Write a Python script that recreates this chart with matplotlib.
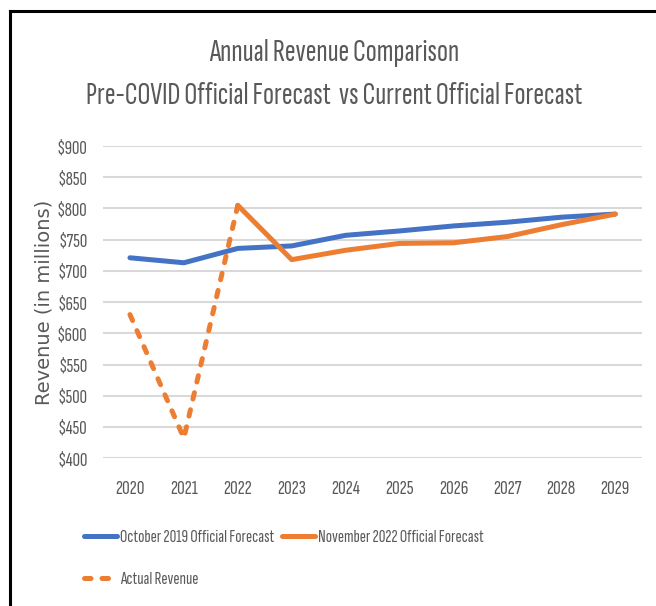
import matplotlib
matplotlib.use("Agg")
import matplotlib.pyplot as plt
from matplotlib.lines import Line2D
from matplotlib import font_manager
from matplotlib.font_manager import FontProperties
from matplotlib.textpath import TextPath

years = [2020, 2021, 2022, 2023, 2024, 2025, 2026, 2027, 2028, 2029]
oct2019 = [721, 713, 736, 740, 757, 764, 772, 778, 786, 791]
nov2022_years = [2022, 2023, 2024, 2025, 2026, 2027, 2028, 2029]
nov2022 = [805, 718, 733, 744, 745, 755, 774, 791]
actual_years = [2020, 2021, 2022]
actual = [630, 432, 805]
yticks = [400, 450, 500, 550, 600, 650, 700, 750, 800, 850, 900]
labels = ["October 2019 Official Forecast", "November 2022 Official Forecast", "Actual Revenue"]

# ---- choose a condensed font whose width/height ratio matches the reference text
installed = {f.name for f in font_manager.fontManager.ttflist}
candidates = ["Fira Sans Extra Condensed", "Saira Extra Condensed", "Sofia Sans Extra Condensed",
              "Encode Sans Compressed", "Encode Sans Condensed", "Roboto Condensed",
              "Saira Condensed", "Fira Sans Condensed", "Pathway Gothic One", "Sofia Sans Condensed",
              "Open Sans Condensed", "Barlow Condensed", "Archivo Narrow", "Asap Condensed"]
target_ratio = 137 / 13.0
best, best_err = None, 1e9
for fam in candidates:
    if fam not in installed:
        continue
    try:
        fp = FontProperties(family=fam)
        wbox = TextPath((0, 0), labels[0], size=100, prop=fp).get_extents()
        hbox = TextPath((0, 0), "H", size=100, prop=fp).get_extents()
        r = wbox.width / hbox.height
        err = abs(r - target_ratio)
        if err < best_err:
            best, best_err = fam, err
    except Exception:
        pass
NF = best if best else "Lato"
narrow = [NF, "Lato", "DejaVu Sans"]

blue = "#4472C4"
orange = "#ED7D31"
gray = "#595959"
grid = "#D9D9D9"

fig = plt.figure(figsize=(6.56, 6.06), dpi=100)
renderer = fig.canvas.get_renderer()


def measure(s, size, weight="normal"):
    t = fig.text(0, 0, s, fontsize=size, family=narrow, weight=weight)
    bb = t.get_window_extent(renderer)
    t.remove()
    return bb


def fit_size(s, target_px, weight="normal"):
    return 12.0 * target_px / measure(s, 12.0, weight).width


ax = fig.add_axes([0.157, 0.244, 0.822, 0.515])

lw = 3.6
l1, = ax.plot(years, oct2019, color=blue, lw=lw, solid_capstyle="round", solid_joinstyle="round",
              label=labels[0], zorder=3)
l2, = ax.plot(nov2022_years, nov2022, color=orange, lw=lw, solid_capstyle="round", solid_joinstyle="round",
              label=labels[1], zorder=3)
l3, = ax.plot(actual_years, actual, color=orange, lw=lw, ls=(0, (1.3, 2.2)), dash_capstyle="round",
              label=labels[2], zorder=3)

ax.set_xlim(2019.5, 2029.5)
ax.set_ylim(400, 900)
ax.set_yticks(yticks)
ax.set_yticklabels([f"${v}" for v in yticks])
ax.set_xticks(years)
ax.set_xticklabels([str(y) for y in years])
ax.yaxis.grid(True, color=grid, lw=1.5)
ax.set_axisbelow(True)
for s in ax.spines.values():
    s.set_visible(False)

ytick_fs = fit_size("$900", 31)
xtick_fs = fit_size("2020", 29)
ax.tick_params(length=0, colors=gray)
ax.tick_params(axis="y", pad=11, labelsize=ytick_fs)
ax.tick_params(axis="x", pad=16, labelsize=xtick_fs)
for lab in ax.get_xticklabels() + ax.get_yticklabels():
    lab.set_fontfamily(narrow)

ax.set_ylabel("Revenue (in millions)", color=gray, fontsize=14, fontfamily="DejaVu Sans")
ax.yaxis.set_label_coords(-0.091, 0.5)

t1 = "Annual Revenue Comparison"
t2 = "Pre-COVID Official Forecast  vs Current Official Forecast"
title_fs = (fit_size(t1, 253, "light") + fit_size(t2, 490, "light")) / 2
fig.text(0.51, 1 - 53 / 606, t1, ha="center", va="center", fontsize=title_fs, color=gray,
         family=narrow, weight="light")
fig.text(0.51, 1 - 96 / 606, t2, ha="center", va="center", fontsize=title_fs, color=gray,
         family=narrow, weight="light")

leg_fs = 1.12 * (fit_size(labels[0], 137) + fit_size(labels[1], 148) + fit_size(labels[2], 70)) / 3
fs_px = leg_fs * 100 / 72
th = measure(labels[0], leg_fs).height
leg = fig.legend(handles=[l1, l3, l2], loc="upper left",
                 bbox_to_anchor=(84 / 656, 1 - (537 - th / 2) / 606),
                 ncol=2, frameon=False, handlelength=33 / fs_px, handletextpad=3 / fs_px,
                 columnspacing=8 / fs_px, labelspacing=(41 - th) / fs_px,
                 borderaxespad=0, borderpad=0,
                 prop={"family": narrow, "size": leg_fs})
for t in leg.get_texts():
    t.set_color(gray)

fig.add_artist(Line2D([10 / 656, 1.0], [1 - 11 / 606, 1 - 11 / 606], color="black", lw=2.2,
                      transform=fig.transFigure))
fig.add_artist(Line2D([10 / 656, 10 / 656], [0, 1 - 11 / 606], color="black", lw=2.2,
                      transform=fig.transFigure))

fig.savefig("out.png", dpi=100, facecolor="white")
